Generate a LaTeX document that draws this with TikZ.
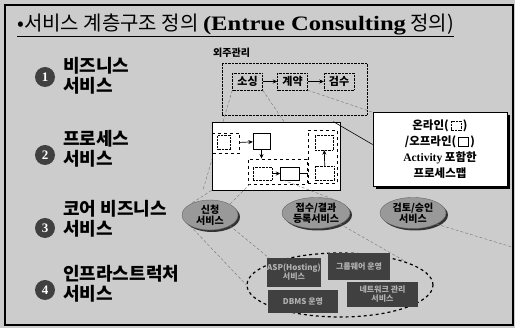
\documentclass[tikz,border=0pt]{standalone}
\usepackage{fontspec}
\setmainfont{Noto Sans CJK KR}
\newfontfamily\lat{Liberation Serif}
\usetikzlibrary{shapes.geometric,arrows.meta,shadows,calc}
\definecolor{bg}{gray}{0.80}
\begin{document}
\begin{tikzpicture}[x=1pt,y=-1pt,
  num/.style={circle,fill=black!75,minimum size=20pt,inner sep=0pt,text=white,font=\lat\bfseries\fontsize{13}{13}\selectfont},
  lab/.style={anchor=west,align=left,font=\bfseries\fontsize{18}{20}\selectfont,inner sep=0pt},
  dotbox/.style={draw,densely dotted,minimum width=30pt,minimum height=17pt,inner sep=0pt,font=\bfseries\fontsize{11}{11}\selectfont},
  sq/.style={draw,fill=white,inner sep=0pt},
  grp/.style={draw,dashed,line width=0.9pt,inner sep=0pt},
  svc/.style={ellipse,fill=black!40,draw=black!60,inner sep=0pt,align=center,font=\bfseries\fontsize{10}{11}\selectfont,drop shadow={shadow xshift=2pt,shadow yshift=-2pt,fill=black!80,opacity=1}},
  infra/.style={fill=black!75,text=black!30,inner sep=0pt,align=center,font=\bfseries\fontsize{8}{9}\selectfont},
  zl/.style={black!55,densely dashed,line width=0.4pt},
  arr/.style={-{Stealth[length=4.5pt,width=4pt]},line width=0.7pt}
]
\useasboundingbox (0,0) rectangle (515,328);
\fill[bg] (0,0) rectangle (515,328);
\draw[line width=1.6pt] (5,5) rectangle (513,325);

% title
\node[anchor=west,inner sep=0pt,font=\fontsize{20}{22}\selectfont] (title) at (17,24)
  {•서비스 계층구조 정의 \scalebox{1.2}[1]{\lat\bfseries\fontsize{20.5}{22}\selectfont(Entrue Consulting} 정의)};
\draw[line width=1pt] ($(title.south west)+(0,2)$) -- ($(title.south east)+(0,2)$);

% numbered circles and labels
\node[num] (n1) at (45,77) {1};
\node[num] (n2) at (45,155) {2};
\node[num] (n3) at (45,228) {3};
\node[num] (n4) at (45,290) {4};
\node[lab] (l1) at (63,76) {비즈니스\\서비스};
\node[lab] (l2) at (63,149) {프로세스\\서비스};
\node[lab] (l3) at (63,219) {코어 비즈니스\\서비스};
\node[lab] (l4) at (63,284) {인프라스트럭처\\서비스};

% outsourcing management
\node[anchor=west,inner sep=0pt,font=\bfseries\fontsize{10}{10}\selectfont] (oj) at (213,53) {외주관리};
\node[draw,densely dotted,minimum width=145pt,minimum height=52pt,inner sep=0pt] (ojbox) at (294.5,89) {};
\node[dotbox] (sos) at (247.5,81.5) {소싱};
\node[dotbox] (gye) at (292.5,81.5) {계약};
\node[dotbox] (gum) at (339,81.5) {검수};
\draw[arr] (sos) -- (gye);
\draw[arr] (gye) -- (gum);

% zoom lines
\coordinate (z1) at (203,190);
\draw[zl] (sos.south west) -- (z1);
\coordinate (z2) at (285,123);
\draw[zl] (sos.south east) -- (z2);
\coordinate (z3) at (372,112);
\draw[zl] (gye.south east) -- (z3);

% process map
\node[draw,fill=white,minimum width=128pt,minimum height=68pt,inner sep=0pt,line width=0.7pt] (pmap) at (276,156) {};
\node[grp,minimum width=27pt,minimum height=20pt] (g1) at (226,143) {};
\node[sq,densely dotted,minimum width=13pt,minimum height=14pt] (s0) at (224,142.5) {};
\node[sq,minimum width=17pt,minimum height=16pt] (sA) at (261.5,141.5) {};
\draw[arr] (g1) -- (sA);
\node[grp,minimum width=59pt,minimum height=25pt] (g2) at (277.5,171.5) {};
\node[sq,densely dotted,minimum width=19pt,minimum height=13pt] (sB) at (262.5,173.5) {};
\node[sq,minimum width=19pt,minimum height=13pt] (sC) at (290,173.5) {};
\draw[arr] (sA.south) -- (sA.south |- g2.north);
\draw[arr] (sB) -- (sC);
\node[grp,minimum width=29pt,minimum height=53pt] (g3) at (322.5,156.5) {};
\node[sq,densely dotted,minimum width=18pt,minimum height=15pt] (sD) at (324,142.5) {};
\node[sq,densely dotted,minimum width=19pt,minimum height=14pt] (sE) at (325,173) {};
\draw[arr] (sE) -- (sD);
\draw[line width=0.6pt] (sC.east) -- (sC.east -| g3.west);

% callout
\node[draw,fill=white,line width=0.8pt,minimum width=134pt,minimum height=74pt,align=center,
  font=\bfseries\fontsize{11.5}{16}\selectfont,
  drop shadow={shadow xshift=3pt,shadow yshift=-3pt,fill=black,opacity=1}] (call) at (440,149.5)
  {온라인(\,\tikz[baseline=0pt]\draw[densely dotted] (0pt,0pt) rectangle (10pt,9pt);\,)\\
   /오프라인(\,\tikz[baseline=0pt]\draw (0pt,0pt) rectangle (10pt,9pt);\,)\\
   {\lat Activity} 포함한\\
   프로세스맵};
\draw[line width=0.6pt] ($(pmap.north east)+(-7,0)$) -- ($(call.west)+(0,-5)$);

% core business services
\node[svc,minimum width=56pt,minimum height=30pt] (e1) at (210,215) {신청\\서비스};
\node[svc,minimum width=68pt,minimum height=31pt] (e2) at (316,213) {접수/결과\\등록서비스};
\node[svc,minimum width=66pt,minimum height=31pt] (e3) at (413,213) {검토/승인\\서비스};

\draw[zl] (pmap.south west) -- (e1.north west);
\coordinate (z4) at (250,184);
\draw[zl] (z4) -- (e1.north east);
\coordinate (z5) at (283,180);
\draw[zl] (z5) -- (e2.north east);

% infrastructure
\node[ellipse,draw,dashed,line width=1.2pt,minimum width=186pt,minimum height=64pt,inner sep=0pt] (inf) at (340,285) {};
\draw[zl] (e1.south west) -- (inf.west);
\draw[zl] (e1.south east) -- (inf.north west);
\draw[zl] (e2.south east) -- (inf.north east);
\coordinate (z6) at (512,247);
\draw[zl] (e3.south east) -- (z6);
\node[infra,minimum width=52pt,minimum height=29pt] (i1) at (294,272.5) {ASP(Hosting)\\서비스};
\node[infra,minimum width=62pt,minimum height=27pt] (i2) at (359,266.5) {그룹웨어 운영};
\node[infra,minimum width=70pt,minimum height=23pt] (i3) at (303,301.5) {DBMS 운영};
\node[infra,minimum width=71pt,minimum height=25pt] (i4) at (382.5,294.5) {네트워크 관리\\서비스};
\end{tikzpicture}
\end{document}
